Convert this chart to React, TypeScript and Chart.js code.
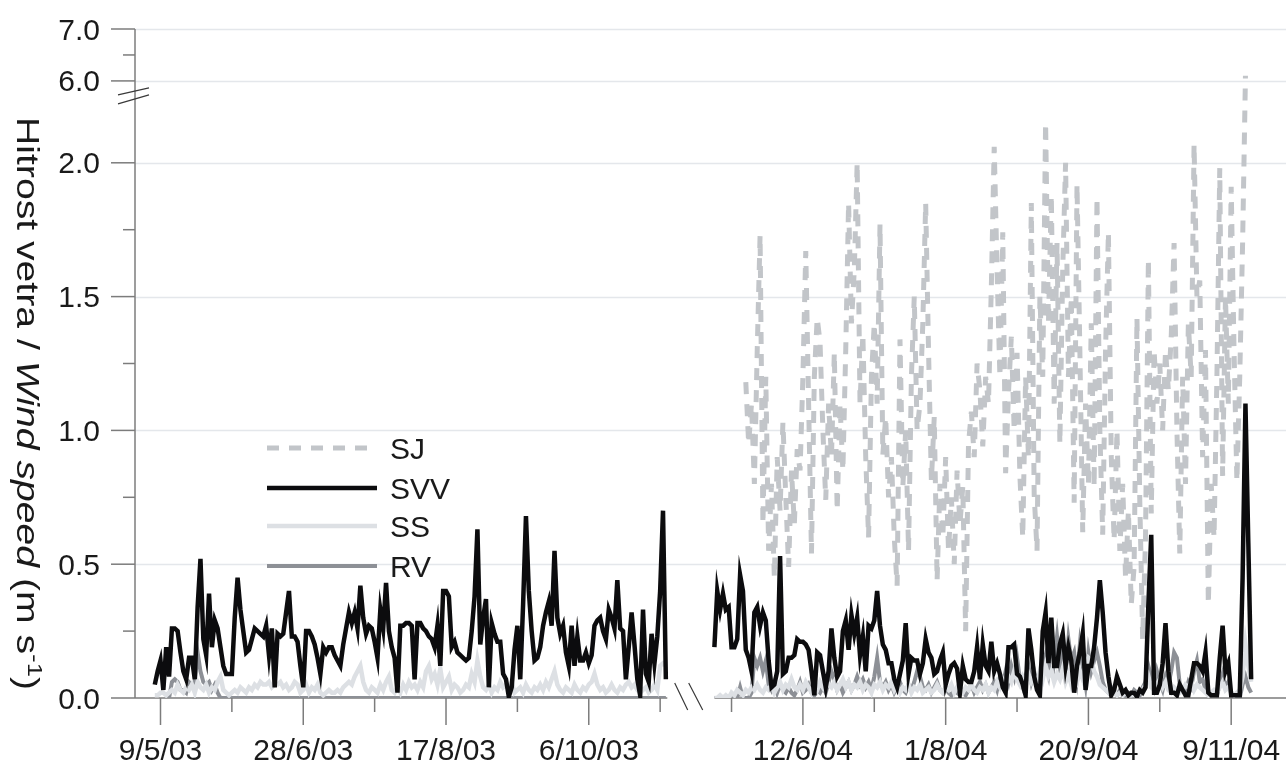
import React, { useEffect, useRef } from "react";
import { Chart, registerables } from "chart.js";

Chart.register(...registerables);

// ---------- DATA ----------
// x = day index on a compressed time axis: 0 = 9/5/03, 225 = 12/6/04 (the winter is cut out)
const seriesNames = ["SJ", "SVV", "SS", "RV"];
const xTickDays = [0, 50, 100, 150, 225, 275, 325, 375];
const xTickLabels = ["9/5/03", "28/6/03", "17/8/03", "6/10/03", "12/6/04", "1/8/04", "20/9/04", "9/11/04"];
const xMinorDays = [25, 75, 125, 175, 200, 250, 300, 350];
const yTickValues = [0, 0.5, 1.0, 1.5, 2.0, 6.0, 7.0];
const yTickLabels = ["0.0", "0.5", "1.0", "1.5", "2.0", "6.0", "7.0"];
const yMinorValues = [0.25, 0.75, 1.25, 1.75, 6.5];

const start2003 = -2;
const start2004 = 194;
const startSJ2004 = 205;

const svv2003 = [
  0.05, 0.10, 0.14, 0.03, 0.19, 0.08, 0.26, 0.26, 0.25, 0.17, 0.10, 0.07,
  0.15, 0.15, 0.07, 0.34, 0.52, 0.22, 0.16, 0.39, 0.19, 0.29,
  0.26, 0.19, 0.12, 0.09, 0.09, 0.09, 0.30, 0.45, 0.33, 0.25,
  0.17, 0.18, 0.22, 0.26, 0.25, 0.24, 0.23, 0.27, 0.16, 0.26,
  0.04, 0.24, 0.23, 0.24, 0.32, 0.40, 0.23, 0.23, 0.21, 0.12,
  0.04, 0.25, 0.25, 0.23, 0.20, 0.15, 0.09, 0.19, 0.17, 0.19,
  0.19, 0.16, 0.14, 0.12, 0.20, 0.26, 0.32, 0.28, 0.32, 0.26,
  0.42, 0.30, 0.24, 0.27, 0.26, 0.21, 0.15, 0.33, 0.26, 0.43,
  0.25, 0.19, 0.15, 0.02, 0.27, 0.27, 0.28, 0.28, 0.27, 0.07,
  0.28, 0.28, 0.26, 0.25, 0.23, 0.22, 0.19, 0.27, 0.12, 0.40,
  0.40, 0.38, 0.19, 0.21, 0.17, 0.16, 0.15, 0.14, 0.15, 0.25,
  0.38, 0.63, 0.20, 0.30, 0.37, 0.04, 0.28, 0.24, 0.21, 0.21,
  0.09, 0.07, 0.005, 0.04, 0.18, 0.27, 0.07, 0.35, 0.68, 0.40,
  0.25, 0.14, 0.15, 0.19, 0.27, 0.32, 0.36, 0.27, 0.55, 0.30,
  0.24, 0.27, 0.17, 0.12, 0.27, 0.12, 0.23, 0.14, 0.14, 0.17,
  0.13, 0.16, 0.27, 0.29, 0.30, 0.25, 0.22, 0.33, 0.30, 0.26,
  0.44, 0.26, 0.25, 0.07, 0.19, 0.32, 0.20, 0.07, 0.01, 0.33,
  0.09, 0.06, 0.24, 0.13, 0.23, 0.40, 0.70, 0.07,
];

const svv2004 = [
  0.19, 0.40, 0.33, 0.39, 0.33, 0.34, 0.19, 0.19, 0.22, 0.46,
  0.40, 0.18, 0.15, 0.10, 0.32, 0.34, 0.27, 0.32, 0.29, 0.14,
  0.04, 0.05, 0.10, 0.53, 0.09, 0.10, 0.15, 0.15, 0.16, 0.22,
  0.21, 0.21, 0.20, 0.18, 0.10, 0.01, 0.17, 0.16, 0.10, 0.04,
  0.10, 0.26, 0.15, 0.08, 0.10, 0.25, 0.29, 0.18, 0.31, 0.24,
  0.30, 0.16, 0.23, 0.10, 0.27, 0.26, 0.29, 0.40, 0.27, 0.20,
  0.18, 0.13, 0.13, 0.07, 0.04, 0.09, 0.14, 0.28, 0.09, 0.15,
  0.14, 0.14, 0.09, 0.13, 0.22, 0.17, 0.15, 0.09, 0.10, 0.14,
  0.17, 0.05, 0.09, 0.12, 0.13, 0.11, 0.02, 0.12, 0.07, 0.06,
  0.06, 0.10, 0.19, 0.07, 0.20, 0.12, 0.10, 0.21, 0.10, 0.13,
  0.09, 0.04, 0.02, 0.19, 0.19, 0.20, 0.09, 0.08, 0.05, 0.01,
  0.26, 0.18, 0.08, 0.03, 0.01, 0.25, 0.32, 0.13, 0.30, 0.12,
  0.12, 0.20, 0.24, 0.12, 0.19, 0.14, 0.02, 0.12, 0.17, 0.24,
  0.03, 0.12, 0.12, 0.19, 0.30, 0.44, 0.32, 0.17, 0.08, 0.01,
  0.03, 0.08, 0.05, 0.02, 0.03, 0.01, 0.02, 0.02, 0.005, 0.03,
  0.02, 0.04, 0.35, 0.61, 0.02, 0.02, 0.05, 0.13, 0.28, 0.10,
  0.02, 0.02, 0.01, 0.05, 0.03, 0.01, 0.01, 0.07, 0.13, 0.13,
  0.12, 0.10, 0.17, 0.02, 0.01, 0.01, 0.01, 0.15, 0.27, 0.10,
  0.13, 0.01, 0.01, 0.01, 0.01, 0.45, 1.10, 0.58, 0.07,
];

const sj2004 = [
  1.18, 0.95, 1.10, 0.80, 1.30, 1.73, 0.65, 1.20, 0.55, 0.80,
  0.45, 0.90, 0.70, 1.03, 0.75, 0.49, 0.85, 0.65, 0.93, 0.85,
  1.20, 1.67, 1.10, 0.54, 1.20, 1.42, 1.33, 1.00, 0.74, 1.10,
  0.90, 1.29, 0.70, 1.10, 0.85, 1.30, 1.85, 1.40, 1.60, 2.00,
  1.10, 1.36, 0.90, 0.60, 1.20, 1.40, 1.10, 1.77, 0.91, 1.05,
  0.75, 0.90, 0.60, 0.42, 1.34, 0.79, 1.00, 0.55, 1.20, 1.50,
  1.00, 1.10, 1.40, 1.85, 1.30, 0.81, 1.05, 0.44, 0.80, 0.60,
  0.90, 0.55, 0.75, 0.50, 0.85, 0.65, 0.79, 0.25, 0.95, 1.07,
  0.90, 1.25, 1.15, 0.94, 1.20, 1.10, 1.54, 2.06, 1.60, 1.20,
  1.74, 0.84, 1.14, 1.35, 1.00, 1.29, 0.83, 0.60, 1.20, 0.90,
  1.85, 0.76, 0.55, 1.50, 1.20, 2.15, 1.40, 1.88, 1.10, 1.70,
  0.95, 1.60, 2.00, 1.20, 1.50, 0.73, 1.92, 1.30, 0.62, 1.10,
  0.80, 1.40, 0.79, 1.87, 1.00, 0.61, 1.30, 1.74, 0.90, 0.59,
  1.00, 0.55, 0.80, 0.45, 0.70, 0.35, 0.49, 1.42, 0.73, 0.22,
  0.60, 1.64, 0.69, 1.30, 1.10, 1.25, 1.00, 1.30, 1.15, 1.35,
  1.70, 1.00, 0.54, 1.20, 0.80, 1.40, 1.20, 2.07, 1.50, 1.56,
  0.90, 1.30, 0.35, 0.80, 0.60, 1.20, 1.98, 0.83, 1.50, 1.10,
  1.91, 1.30, 0.81, 1.20, 1.70, 6.10,
];

const ss2003 = [
  0.01, 0.01, 0.02, 0.02, 0.01, 0.02, 0.03, 0.02, 0.05, 0.03, 0.02, 0.04,
  0.03, 0.05, 0.02, 0.06, 0.04, 0.03, 0.05, 0.02, 0.04, 0.03,
  0.06, 0.08, 0.03, 0.02, 0.01, 0.02, 0.03, 0.02, 0.04, 0.03,
  0.02, 0.04, 0.03, 0.05, 0.04, 0.06, 0.05, 0.05, 0.06, 0.04,
  0.05, 0.05, 0.06, 0.04, 0.05, 0.03, 0.04, 0.06, 0.05, 0.02,
  0.03, 0.05, 0.02, 0.04, 0.03, 0.05, 0.02, 0.01, 0.02, 0.03,
  0.02, 0.02, 0.03, 0.02, 0.04, 0.05, 0.06, 0.05, 0.08, 0.10,
  0.12, 0.06, 0.03, 0.02, 0.04, 0.03, 0.02, 0.05, 0.03, 0.06,
  0.08, 0.03, 0.02, 0.04, 0.02, 0.05, 0.03, 0.06, 0.04, 0.05,
  0.03, 0.06, 0.04, 0.10, 0.12, 0.07, 0.09, 0.05, 0.11, 0.04,
  0.06, 0.08, 0.03, 0.05, 0.04, 0.02, 0.03, 0.05, 0.04, 0.09,
  0.06, 0.14, 0.08, 0.04, 0.03, 0.05, 0.02, 0.04, 0.03, 0.06,
  0.04, 0.05, 0.03, 0.06, 0.02, 0.03, 0.04, 0.02, 0.05, 0.03,
  0.02, 0.04, 0.03, 0.05, 0.03, 0.06, 0.04, 0.07, 0.10, 0.05,
  0.03, 0.02, 0.04, 0.03, 0.02, 0.05, 0.03, 0.02, 0.04, 0.03,
  0.05, 0.06, 0.09, 0.05, 0.03, 0.04, 0.02, 0.03, 0.05, 0.03,
  0.02, 0.04, 0.03, 0.05, 0.06, 0.04, 0.05, 0.03, 0.02, 0.03,
  0.04, 0.02, 0.03, 0.05, 0.03, 0.12, 0.13, 0.12,
];

const ss2004 = [
  0.0, 0.0, 0.01, 0.0, 0.01, 0.0, 0.02, 0.01, 0.03, 0.02,
  0.01, 0.03, 0.02, 0.04, 0.03, 0.05, 0.03, 0.02, 0.04, 0.03,
  0.05, 0.02, 0.04, 0.06, 0.03, 0.05, 0.04, 0.07, 0.04, 0.03,
  0.05, 0.03, 0.06, 0.04, 0.02, 0.05, 0.03, 0.06, 0.04, 0.07,
  0.05, 0.04, 0.06, 0.03, 0.05, 0.07, 0.04, 0.06, 0.03, 0.05,
  0.04, 0.06, 0.03, 0.05, 0.04, 0.02, 0.05, 0.04, 0.06, 0.03,
  0.05, 0.04, 0.06, 0.03, 0.05, 0.02, 0.04, 0.03, 0.05, 0.02,
  0.04, 0.03, 0.05, 0.02, 0.03, 0.04, 0.02, 0.03, 0.05, 0.03,
  0.02, 0.04, 0.03, 0.05, 0.02, 0.04, 0.03, 0.02, 0.04, 0.03,
  0.05, 0.03, 0.02, 0.04, 0.03, 0.05, 0.02, 0.04, 0.03, 0.06,
  0.04, 0.07, 0.05, 0.08, 0.06, 0.10, 0.07, 0.05, 0.08, 0.06,
  0.09, 0.06, 0.08, 0.05, 0.10, 0.07, 0.12, 0.08, 0.10, 0.06,
  0.09, 0.07, 0.11, 0.06, 0.09, 0.05, 0.08, 0.06, 0.10, 0.07,
  0.12, 0.15, 0.14, 0.10, 0.08, 0.05, 0.04, 0.03, 0.02, 0.03,
  0.02, 0.01, 0.02, 0.01, 0.02, 0.01, 0.01, 0.02, 0.01, 0.02,
  0.03, 0.05, 0.08, 0.04, 0.03, 0.05, 0.07, 0.04, 0.06, 0.03,
  0.02, 0.04, 0.03, 0.02, 0.03, 0.05, 0.04, 0.06, 0.03, 0.05,
  0.04, 0.03, 0.02, 0.01, 0.02, 0.03, 0.02, 0.04, 0.06, 0.03,
  0.04, 0.02, 0.01, 0.02, 0.03, 0.08, 0.20, 0.12, 0.06,
];

const rv2003Days = [3, 4, 5, 6, 7, 8, 9, 10, 11, 12, 13, 14, 15, 16, 17, 18, 19, 20, 21, 177];
const rv2003 = [
  0.00, 0.06, 0.07, 0.06, 0.03, 0.03, 0.02, 0.06, 0.05, 0.06,
  0.17, 0.10, 0.06, 0.05, 0.06, 0.03, 0.05, 0.02, 0.00, 0.00,
];

const rv2004 = [
  0, 0, 0, 0, 0, 0, 0, 0, 0, 0.04,
  0, 0, 0, 0.02, 0.15, 0.12, 0.15, 0.10, 0.14, 0.05,
  0.03, 0.06, 0.02, 0.05, 0.03, 0.02, 0.04, 0.02, 0.01, 0.03,
  0.06, 0.02, 0.03, 0.05, 0.02, 0.01, 0.03, 0.02, 0.04, 0.02,
  0.06, 0.10, 0.07, 0.03, 0.05, 0.02, 0.04, 0.06, 0.03, 0.05,
  0.08, 0.05, 0.07, 0.04, 0.06, 0.03, 0.08, 0.15, 0.06, 0.04,
  0.06, 0.03, 0.05, 0.02, 0.04, 0.06, 0.03, 0.02, 0.05, 0.03,
  0.06, 0.10, 0.08, 0.04, 0.03, 0.05, 0.02, 0.04, 0.06, 0.03,
  0.02, 0.04, 0.02, 0.01, 0.03, 0.02, 0.04, 0.02, 0.01, 0.03,
  0.05, 0.02, 0.04, 0.06, 0.03, 0.05, 0.02, 0.04, 0.06, 0.03,
  0.08, 0.05, 0.10, 0.06, 0.12, 0.08, 0.15, 0.07, 0.04, 0.08,
  0.12, 0.06, 0.10, 0.05, 0.08, 0.12, 0.16, 0.10, 0.22, 0.14,
  0.23, 0.12, 0.20, 0.09, 0.22, 0.14, 0.17, 0.08, 0.20, 0.12,
  0.05, 0.17, 0.10, 0.14, 0.17, 0.12, 0.06, 0.03, 0.02, 0.04,
  0.02, 0.01, 0.03, 0.02, 0.01, 0.02, 0.01, 0.03, 0.02, 0.01,
  0.04, 0.06, 0.12, 0.08, 0.04, 0.10, 0.06, 0.03, 0.08, 0.05,
  0.10, 0.17, 0.15, 0.05, 0.03, 0.02, 0.06, 0.04, 0.10, 0.14,
  0.06, 0.07, 0.03, 0.02, 0.01, 0.02, 0.01, 0.05, 0.09, 0.04,
  0.06, 0.02, 0.01, 0, 0, 0.05, 0.08, 0.04, 0.02,
];

// ---------- axis geometry (broken axes) ----------
const X_MIN = -8.93;
const X_MAX = 394.2;
const X_BREAK_DAY = 185;
const X_AXIS_END_2003 = 177.5;
const X_AXIS_START_2004 = 194;
const LOW_TOP = 2.0;
const BREAK_GAP = 0.306;
const HIGH_BASE = 6.0;
const HIGH_SCALE = 0.194;
const Y_MAX_T = 2.5;
const Y_BREAK_T = 2.25;

function ty(v: number): number {
  return v <= 2.3 ? v : LOW_TOP + BREAK_GAP + (v - HIGH_BASE) * HIGH_SCALE;
}

function seg(start: number, vals: number[]) {
  return vals.map((v, i) => ({ x: start + i, y: ty(v) }));
}
function pairs(days: number[], vals: number[]) {
  return vals.map((v, i) => ({ x: days[i], y: ty(v) }));
}
const gap = { x: X_BREAK_DAY, y: null as any };

const COLORS = {
  SJ: "#c2c5c9",
  SVV: "#0c0c0e",
  SS: "#dde0e4",
  RV: "#8d9096",
  axis: "#7c7c7c",
  grid: "#e4e7eb",
  text: "#1a1a1a",
};
const FONT = "'Liberation Sans', Arial, Helvetica, sans-serif";

const decorPlugin = {
  id: "decor",
  beforeDatasetsDraw(chart: any) {
    const ctx = chart.ctx;
    const ca = chart.chartArea;
    const xs = chart.scales.x;
    const ys = chart.scales.y;
    ctx.save();
    // gridlines
    ctx.strokeStyle = COLORS.grid;
    ctx.lineWidth = 1.5;
    yTickValues.forEach((v) => {
      if (v === 0) return;
      const py = Math.round(ys.getPixelForValue(ty(v))) + 0.5;
      ctx.beginPath();
      ctx.moveTo(ca.left, py);
      ctx.lineTo(ca.right, py);
      ctx.stroke();
    });
    // axes
    ctx.strokeStyle = COLORS.axis;
    ctx.lineWidth = 1.5;
    const y0 = ys.getPixelForValue(0);
    const yTop = ys.getPixelForValue(Y_MAX_T);
    ctx.beginPath();
    ctx.moveTo(ca.left, yTop);
    ctx.lineTo(ca.left, y0);
    ctx.stroke();
    ctx.beginPath();
    ctx.moveTo(ca.left, y0);
    ctx.lineTo(xs.getPixelForValue(X_AXIS_END_2003), y0);
    ctx.moveTo(xs.getPixelForValue(X_AXIS_START_2004), y0);
    ctx.lineTo(ca.right, y0);
    ctx.stroke();
    ctx.restore();
  },
  afterDatasetsDraw(chart: any) {
    const ctx = chart.ctx;
    const ca = chart.chartArea;
    const xs = chart.scales.x;
    const ys = chart.scales.y;
    const y0 = ys.getPixelForValue(0);
    ctx.save();
    ctx.strokeStyle = COLORS.axis;
    ctx.lineWidth = 1.5;
    // y ticks
    yTickValues.forEach((v) => {
      const py = ys.getPixelForValue(ty(v));
      ctx.beginPath();
      ctx.moveTo(ca.left - 24, py);
      ctx.lineTo(ca.left, py);
      ctx.stroke();
    });
    yMinorValues.forEach((v) => {
      const py = ys.getPixelForValue(ty(v));
      ctx.beginPath();
      ctx.moveTo(ca.left - 12, py);
      ctx.lineTo(ca.left, py);
      ctx.stroke();
    });
    // x ticks
    xTickDays.forEach((d) => {
      const px = xs.getPixelForValue(d);
      ctx.beginPath();
      ctx.moveTo(px, y0);
      ctx.lineTo(px, y0 + 27);
      ctx.stroke();
    });
    xMinorDays.forEach((d) => {
      const px = xs.getPixelForValue(d);
      ctx.beginPath();
      ctx.moveTo(px, y0);
      ctx.lineTo(px, y0 + 14);
      ctx.stroke();
    });
    // break marks
    ctx.strokeStyle = "#3a3a3a";
    ctx.lineWidth = 1.2;
    const yb = ys.getPixelForValue(Y_BREAK_T);
    ctx.beginPath();
    ctx.moveTo(ca.left - 17, yb - 1);
    ctx.lineTo(ca.left + 14, yb - 8);
    ctx.moveTo(ca.left - 17, yb + 8);
    ctx.lineTo(ca.left + 14, yb - 1);
    ctx.stroke();
    const xb = xs.getPixelForValue(X_BREAK_DAY);
    ctx.beginPath();
    ctx.moveTo(xb - 14, y0 - 15);
    ctx.lineTo(xb - 1, y0 + 12);
    ctx.moveTo(xb, y0 - 15);
    ctx.lineTo(xb + 14, y0 + 12);
    ctx.stroke();

    // tick labels
    ctx.fillStyle = COLORS.text;
    ctx.font = `30px ${FONT}`;
    ctx.textBaseline = "alphabetic";
    ctx.textAlign = "right";
    yTickValues.forEach((v, i) => {
      const py = ys.getPixelForValue(ty(v));
      ctx.fillText(yTickLabels[i], 100, py + 10.5);
    });
    ctx.textAlign = "center";
    xTickDays.forEach((d, i) => {
      const px = xs.getPixelForValue(d);
      ctx.fillText(xTickLabels[i], px, y0 + 62);
    });

    // legend
    const legendYs = [448, 488, 526, 566];
    chart.data.datasets.forEach((ds: any, i: number) => {
      const ly = legendYs[i];
      ctx.save();
      ctx.strokeStyle = ds.borderColor;
      ctx.lineWidth = ds.borderWidth;
      ctx.setLineDash(ds.borderDash || []);
      ctx.lineCap = "butt";
      ctx.beginPath();
      ctx.moveTo(267, ly);
      ctx.lineTo(377, ly);
      ctx.stroke();
      ctx.restore();
      ctx.textAlign = "left";
      ctx.fillStyle = COLORS.text;
      ctx.font = `30px ${FONT}`;
      ctx.fillText(ds.label, 390, ly + 10.5);
    });

    // y-axis title (rotated, mixed styles)
    const parts = [
      { t: "Hitrost vetra / ", f: `32px ${FONT}`, dy: 0 },
      { t: "Wind speed", f: `italic 32px ${FONT}`, dy: 0 },
      { t: " (m s", f: `32px ${FONT}`, dy: 0 },
      { t: "-1", f: `21px ${FONT}`, dy: -11 },
      { t: ")", f: `32px ${FONT}`, dy: 0 },
    ];
    let total = 0;
    const widths = parts.map((p) => {
      ctx.font = p.f;
      const w = ctx.measureText(p.t).width;
      total += w;
      return w;
    });
    const targetLen = 573;
    ctx.save();
    ctx.translate(17, 403.5);
    ctx.rotate(Math.PI / 2);
    ctx.scale(targetLen / total, 1);
    ctx.textAlign = "left";
    ctx.fillStyle = COLORS.text;
    let cx = -total / 2;
    parts.forEach((p, i) => {
      ctx.font = p.f;
      ctx.fillText(p.t, cx, p.dy);
      cx += widths[i];
    });
    ctx.restore();
    ctx.restore();
  },
};

export default function App() {
  const ref = useRef<HTMLCanvasElement | null>(null);
  useEffect(() => {
    if (!ref.current) return;
    const datasets = [
      {
        label: seriesNames[0],
        data: seg(startSJ2004, sj2004),
        borderColor: COLORS.SJ,
        borderWidth: 5,
        borderDash: [12, 10],
        order: 1,
      },
      {
        label: seriesNames[1],
        data: [...seg(start2003, svv2003), gap, ...seg(start2004, svv2004)],
        borderColor: COLORS.SVV,
        borderWidth: 4.5,
        order: 0,
      },
      {
        label: seriesNames[2],
        data: [...seg(start2003, ss2003), gap, ...seg(start2004, ss2004)],
        borderColor: COLORS.SS,
        borderWidth: 4.5,
        order: 2,
      },
      {
        label: seriesNames[3],
        data: [...pairs(rv2003Days, rv2003), gap, ...seg(start2004, rv2004)],
        borderColor: COLORS.RV,
        borderWidth: 4,
        order: 3,
      },
    ];
    const chart = new Chart(ref.current, {
      type: "line",
      data: { datasets: datasets as any },
      options: {
        animation: false,
        responsive: false,
        devicePixelRatio: 1,
        layout: { padding: { left: 135, right: 0, top: 29, bottom: 65 } },
        plugins: { legend: { display: false }, tooltip: { enabled: false } },
        elements: { point: { radius: 0 }, line: { tension: 0, fill: false } },
        spanGaps: false,
        scales: {
          x: { type: "linear", display: false, min: X_MIN, max: X_MAX },
          y: { type: "linear", display: false, min: 0, max: Y_MAX_T },
        },
      } as any,
      plugins: [decorPlugin],
    });
    return () => chart.destroy();
  }, []);
  return (
    <div style={{ position: "fixed", left: 0, top: 0, width: 1286, height: 763, background: "#fff" }}>
      <canvas ref={ref} width={1286} height={763} style={{ display: "block" }} />
    </div>
  );
}
